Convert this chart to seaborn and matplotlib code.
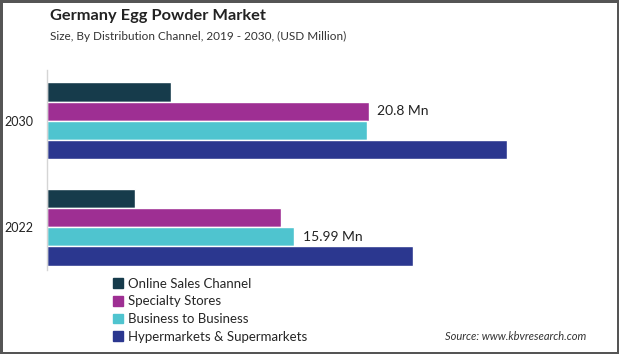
import numpy as np
import pandas as pd
import matplotlib.pyplot as plt
import seaborn as sns

years = ["2030", "2022"]
channels = ["Online Sales Channel", "Specialty Stores", "Business to Business", "Hypermarkets & Supermarkets"]
online = [8.0, 5.7]
specialty = [20.8, 15.09]
b2b = [20.67, 15.99]
hyper = [29.7, 23.64]
colors = ["#163b4b", "#9e2f93", "#4fc4cf", "#2b378f"]

df = pd.DataFrame({
    "year": years * 4,
    "channel": [c for c in channels for _ in years],
    "value": online + specialty + b2b + hyper,
})

sns.set_style("white")
plt.rcParams['font.family'] = ['Lato', 'DejaVu Sans']

fig = plt.figure(figsize=(6.19, 3.54), dpi=100)
ax = fig.add_axes([0.076, 0.237, 0.9, 0.565])
sns.barplot(data=df, x="value", y="year", hue="channel", order=years, hue_order=channels,
            palette=colors, saturation=1, width=0.72, orient="h", ax=ax, legend=False)

ax.set_xlim(0, 36)
ax.set_ylim(1.403, -0.475)
ax.set_xlabel("")
ax.set_ylabel("")
ax.set_xticks([])
ax.tick_params(axis="y", length=0, labelsize=9, pad=10, colors="#222222")
for s in ["top", "right", "bottom"]:
    ax.spines[s].set_visible(False)
ax.spines["left"].set_color("#d5d5d5")
ax.spines["left"].set_linewidth(1)

# value labels on two bars
ax.bar_label(ax.containers[1], labels=["20.8 Mn", ""], padding=6, fontsize=10, color="#222222")
ax.bar_label(ax.containers[2], labels=["", "15.99 Mn"], padding=6, fontsize=10, color="#222222")

handles = [plt.Rectangle((0, 0), 1, 1, color=c) for c in colors]
fig.legend(handles, channels, loc="upper left", bbox_to_anchor=(0.183, 0.215), frameon=False,
           fontsize=9.5, handlelength=0.75, handleheight=0.75, handletextpad=0.4,
           labelspacing=0.42, borderpad=0, borderaxespad=0)

fig.text(0.081, 0.955, "Germany Egg Powder Market", fontsize=11.8, fontweight="bold", color="#222222", va="center")
fig.text(0.081, 0.898, "Size, By Distribution Channel, 2019 - 2030, (USD Million)", fontsize=8.5, color="#333333", va="center")
fig.text(0.947, 0.05, "Source: www.kbvresearch.com", fontsize=8, style="italic", color="#333333", ha="right", va="center")

fig.patch.set_edgecolor("#555555")
fig.patch.set_linewidth(2.5)

plt.savefig("out.png", dpi=100, edgecolor=fig.get_edgecolor())
